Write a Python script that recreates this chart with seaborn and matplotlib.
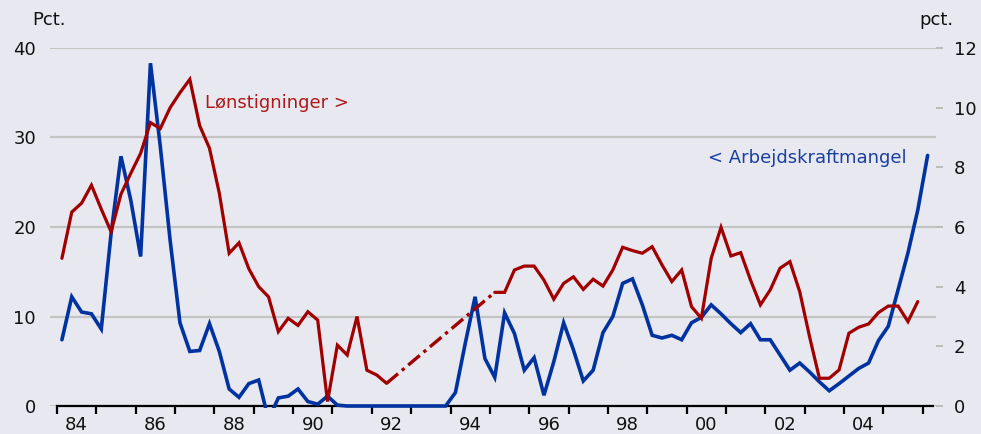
"""
Arbejdskraftmangel (left axis) vs. Lønstigninger (right axis), quarterly 1984-2006.
"""

import numpy as np
import pandas as pd
import matplotlib
matplotlib.use("Agg")
import matplotlib.pyplot as plt
import seaborn as sns
from matplotlib.patches import Rectangle

# ──────────────────────────────────────────────────────────────────────────────
# Data (quarterly, first quarter 1984Q1)
# ──────────────────────────────────────────────────────────────────────────────

START_QUARTER = "1984Q1"

# < Arbejdskraftmangel, pct. (left axis)
shortage = [
    7.4, 12.2, 10.5, 10.3, 8.6, 19.3, 27.9, 23.0, 16.7, 38.3, 29.0, 18.5, 9.3, 6.1,
    6.2, 9.2, 6.1, 1.9, 0.97, 2.5, 2.9, -1.5, 0.9, 1.1, 1.9, 0.5, 0.2, 1.1, 0.1,
    0, 0, 0, 0, 0, 0, 0, 0, 0, 0, 0,
    1.5, 7.0, 12.2, 5.3, 3.2, 10.4, 8.1, 4.0, 5.4, 1.2,
    4.95, 9.3, 6.26, 2.8, 4.0, 8.2, 10.0, 13.7, 14.2, 11.3,
    7.9, 7.6, 7.9, 7.4, 9.3, 9.9, 11.3, 10.3, 9.2, 8.2,
    9.2, 7.4, 7.4, 5.7, 4.0, 4.8, 3.8, 2.7, 1.7, 2.5,
    3.35, 4.2, 4.8, 7.3, 8.9, 13.0, 17.1, 21.9, 28.0,
]

# Lønstigninger >, pct. (right axis); nan = no observation (bridged dashed)
wages = [
    4.95, 6.5, 6.8, 7.4, 6.6, 5.84, 7.1, 7.8, 8.47, 9.5, 9.3, 10.0, 10.5, 10.95,
    9.4, 8.64, 7.13, 5.12, 5.47, 4.6, 4.0, 3.66, 2.49, 2.94, 2.7, 3.16, 2.88, 0.15, 2.04,
    1.71, 3.0, 1.2, 1.04, 0.76,
    np.nan, np.nan, np.nan, np.nan, np.nan, np.nan, np.nan, np.nan, np.nan, np.nan,
    3.81, 3.81, 4.56, 4.69, 4.69, 4.22,
    3.58, 4.11, 4.33, 3.91, 4.25, 4.02, 4.56, 5.32, 5.21, 5.12,
    5.34, 4.73, 4.17, 4.56, 3.33, 2.94, 4.95, 5.99, 5.03, 5.14,
    4.22, 3.39, 3.89, 4.62, 4.84, 3.83, 2.32, 0.93, 0.93, 1.21,
    2.44, 2.64, 2.75, 3.13, 3.35, 3.35, 2.83, 3.5,
]

left_ticks = [0, 10, 20, 30, 40]
right_ticks = [0, 2, 4, 6, 8, 10, 12]
year_ticks = list(range(1984, 2007))
year_labels = ["84", "86", "88", "90", "92", "94", "96", "98", "00", "02", "04"]

BLUE = "#0033A0"
RED = "#A00000"
BG = "#E8E8F0"


def quarter_years(n):
    q = pd.period_range(START_QUARTER, periods=n, freq="Q")
    return np.asarray(q.year + (q.quarter - 0.5) / 4.0, dtype=float)


df_short = pd.DataFrame({"year": quarter_years(len(shortage)), "value": shortage})
df_wage = pd.DataFrame({"year": quarter_years(len(wages)), "value": wages})
df_wage["seg"] = df_wage["value"].isna().cumsum()
wage_obs = df_wage.dropna()

# dashed bridge over the missing quarters
gap = df_wage["value"].isna()
before = df_wage[~gap & gap.shift(-1, fill_value=False)]
after = df_wage[~gap & gap.shift(1, fill_value=False)]
df_bridge = pd.concat([before, after])

# ──────────────────────────────────────────────────────────────────────────────
# Plot
# ──────────────────────────────────────────────────────────────────────────────

sns.set_theme(style="darkgrid", rc={"axes.facecolor": BG, "figure.facecolor": BG})
plt.rcParams["font.family"] = ["DejaVu Sans"]
plt.rcParams["lines.solid_joinstyle"] = "miter"

fig = plt.figure(figsize=(9.81, 4.34), dpi=100)
ax = fig.add_axes([50 / 981, 28 / 434, 886 / 981, 358 / 434])

sns.lineplot(data=df_short, x="year", y="value", color=BLUE, lw=2.6, ax=ax, zorder=3)
blue_line = ax.lines[-1]
clip = Rectangle((1983.0, -0.25), 25.0, 41.0, transform=ax.transData)
blue_line.set_clip_path(clip)

ax.set_xlim(1983.822, 2006.338)
ax.set_ylim(0, 40)
ax.set_yticks(left_ticks)
ax.set_xticks(year_ticks)
ax.set_xticklabels([])
ax.set_xticks([y + 0.5 for y in range(1984, 2005, 2)], minor=True)
ax.set_xticklabels(year_labels, minor=True)
ax.grid(axis="y", color="#C4C4C4", lw=1.6)
ax.grid(axis="x", visible=False)
ax.grid(axis="x", which="minor", visible=False)
ax.set_xlabel("")
ax.set_ylabel("")

for s in ["left", "right", "top"]:
    ax.spines[s].set_visible(False)
ax.spines["bottom"].set_visible(True)
ax.spines["bottom"].set_color("black")
ax.spines["bottom"].set_linewidth(1.6)
ax.spines["bottom"].set_bounds(1984, 2006.26)

ax.tick_params(axis="x", which="major", bottom=True, length=6, width=1.6,
               color="black", direction="out")
ax.tick_params(axis="x", which="minor", bottom=True, length=0, pad=7,
               labelsize=13, labelcolor="#111111")
ax.tick_params(axis="y", left=False, length=0, pad=10, labelsize=13,
               labelcolor="#111111")

ax2 = ax.twinx()
sns.lineplot(data=wage_obs, x="year", y="value", units="seg", estimator=None,
             color=RED, lw=2.3, ax=ax2)
sns.lineplot(data=df_bridge, x="year", y="value", color=RED, lw=2.4, ax=ax2,
             linestyle=(0, (4.5, 1.5, 1.0, 1.5)))
ax2.set_ylim(0, 12)
ax2.set_yticks(right_ticks)
ax2.grid(False)
ax2.set_ylabel("")
ax2.set_xlabel("")
for s in ax2.spines.values():
    s.set_visible(False)
ax2.tick_params(axis="y", right=True, length=5, width=1.5, color="#BDBDBD",
                pad=8, labelsize=13, labelcolor="#111111")

# labels
ax.text(1987.76, 33.9, "Lønstigninger >", color="#B01818", fontsize=13,
        ha="left", va="center")
ax.text(2005.6, 27.7, "< Arbejdskraftmangel", color="#1A3FA0", fontsize=13,
        ha="right", va="center")
fig.text(32 / 981, 1 - 20 / 434, "Pct.", fontsize=13, ha="left", va="center",
         color="#111111")
fig.text(919 / 981, 1 - 20 / 434, "pct.", fontsize=13, ha="left", va="center",
         color="#111111")

fig.savefig("out.png", dpi=100, facecolor=BG)
